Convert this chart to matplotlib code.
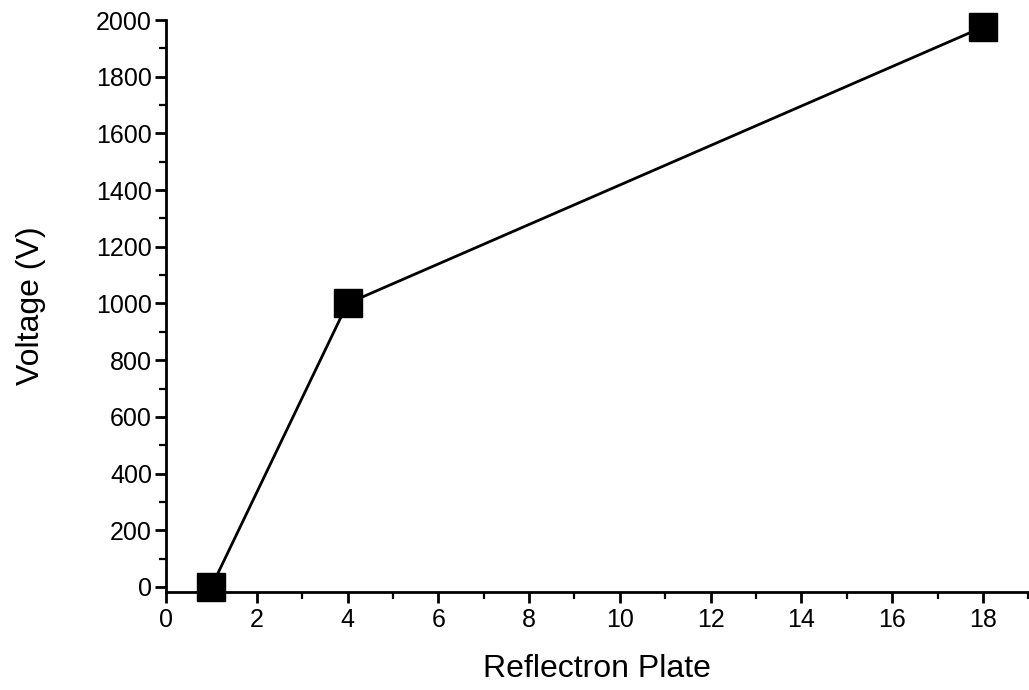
import matplotlib
matplotlib.use('Agg')
import matplotlib.pyplot as plt
from matplotlib.ticker import MultipleLocator

# данные: номер пластины рефлектрона и напряжение
plate = [1, 4, 18]
voltage = [0, 1000, 1975]

plt.rcParams['font.family'] = ['Liberation Sans', 'DejaVu Sans']

fig = plt.figure(figsize=(10.29, 6.90), dpi=100)
ax = fig.add_axes([0.1613, 0.142, 0.838, 0.829])

ax.plot(plate, voltage, color='black', linewidth=2.0, marker='s',
        markersize=20, markerfacecolor='black', markeredgecolor='black',
        clip_on=False, zorder=5)

ax.set_xlim(0, 19)
ax.set_ylim(-18, 2000)
ax.xaxis.set_major_locator(MultipleLocator(2))
ax.xaxis.set_minor_locator(MultipleLocator(1))
ax.yaxis.set_major_locator(MultipleLocator(200))
ax.yaxis.set_minor_locator(MultipleLocator(100))

# только левая и нижняя оси
ax.spines['top'].set_visible(False)
ax.spines['right'].set_visible(False)
ax.spines['left'].set_linewidth(2.0)
ax.spines['bottom'].set_linewidth(2.0)

ax.tick_params(which='major', direction='out', length=8, width=2.0, labelsize=18)
ax.tick_params(axis='y', which='major', pad=2)
ax.tick_params(which='minor', direction='out', length=5, width=1.6)

ax.set_xlabel('Reflectron Plate', fontsize=23, labelpad=16)
ax.set_ylabel('Voltage (V)', fontsize=23, labelpad=36)

fig.savefig('out.png', dpi=100)
